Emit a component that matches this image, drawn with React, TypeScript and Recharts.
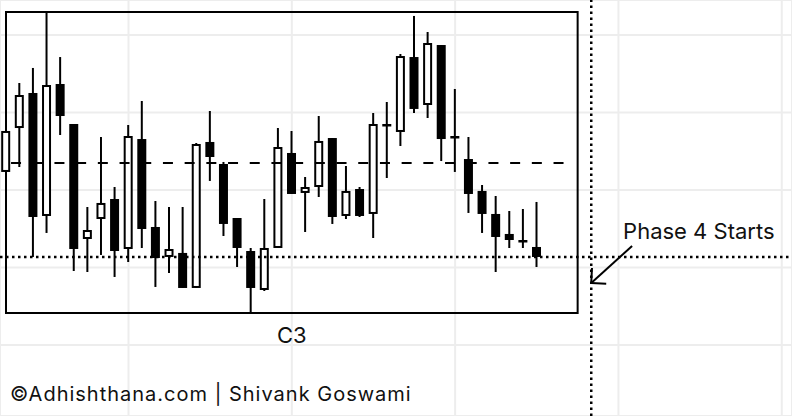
import React from 'react';
import {
  ComposedChart,
  Bar,
  XAxis,
  YAxis,
  CartesianGrid,
  ReferenceLine,
  ReferenceArea,
} from 'recharts';

// candle values (arbitrary price units)
const OPEN = [
  323.3, 380.0, 425.2, 266.5, 436.8, 385.2, 236.8, 262.6, 288.4, 223.9,
  365.8, 252.3, 213.6, 218.8, 173.6, 362.0, 333.6, 263.9, 221.3, 171.0,
  225.2, 347.8, 296.2, 303.9, 367.1, 266.5, 301.3, 269.1, 385.2, 374.9,
  471.6, 409.7, 487.1, 369.7, 340.0, 298.8, 269.1, 243.3, 235.5, 226.5,
];
const HIGH = [
  376.2, 438.1, 457.5, 529.7, 471.6, 385.2, 278.1, 368.4, 303.9, 383.9,
  414.9, 285.8, 278.1, 278.1, 360.7, 402.0, 336.2, 263.9, 225.2, 288.4,
  380.0, 376.2, 316.8, 395.5, 367.1, 331.0, 303.9, 399.4, 413.6, 475.5,
  524.6, 503.9, 487.1, 430.4, 368.4, 306.5, 292.3, 272.9, 275.5, 284.6,
];
const LOW = [
  323.3, 329.7, 213.6, 244.6, 371.0, 195.5, 194.2, 216.2, 187.8, 207.1,
  225.2, 174.9, 192.9, 173.6, 173.6, 311.7, 240.7, 200.7, 141.3, 169.7,
  225.2, 294.9, 245.8, 291.0, 256.2, 262.6, 265.2, 238.1, 315.5, 356.8,
  399.4, 392.9, 337.4, 323.3, 270.4, 244.6, 194.2, 225.2, 225.2, 200.7,
];
const CLOSE = [
  376.2, 422.6, 265.2, 435.5, 395.5, 223.9, 248.4, 283.3, 221.3, 369.7,
  249.7, 212.3, 223.9, 173.6, 359.4, 342.6, 256.2, 225.2, 173.6, 225.2,
  355.5, 294.9, 303.9, 363.3, 265.2, 298.8, 266.5, 385.2, 382.6, 472.9,
  404.6, 489.7, 365.8, 367.1, 294.9, 269.1, 239.4, 235.5, 234.2, 213.6,
];

const GRID_X = [9, 21, 33, 45, 57];
const GRID_Y = [100, 200, 300, 400, 500];

const RESISTANCE = 335; // dashed level
const SUPPORT = 213.6; // dotted level
const PHASE4_X = 43; // dotted vertical
const BOX = { x1: 0, x2: 42, y1: 141.3, y2: 529.7 };

const data = OPEN.map((o, i) => ({
  i,
  open: o,
  high: HIGH[i],
  low: LOW[i],
  close: CLOSE[i],
}));

const FONT = 'Inter, "Liberation Sans", Arial, sans-serif';

const Candle = (props: any) => {
  const { x, y, width, height, payload } = props;
  const top = Math.min(y, y + height);
  const h = Math.abs(height);
  const { open, high, low, close } = payload;
  const toY = (p: number) => top + ((high - p) / (high - low)) * h;
  const cx = x + width / 2;
  const bull = close >= open;
  const yo = toY(open);
  const yc = toY(close);
  const bTop = Math.min(yo, yc) + 1;
  const bH = Math.max(Math.abs(yo - yc) - 2, 0.5);
  return (
    <g>
      <line x1={cx} x2={cx} y1={top} y2={top + h} stroke="#000" strokeWidth={2} />
      <rect
        x={x + 1}
        y={bTop}
        width={width - 2}
        height={bH}
        fill={bull ? '#fff' : '#000'}
        stroke="#000"
        strokeWidth={2}
      />
    </g>
  );
};

const Arrow = (props: any) => {
  const { x1, y1, x2, y2 } = props;
  const back = Math.atan2(y1 - y2, x1 - x2);
  const len = 15;
  const a1 = back - Math.PI / 4;
  const a2 = back + Math.PI / 4;
  return (
    <g>
      <line x1={x1} y1={y1} x2={x2} y2={y2} stroke="#000" strokeWidth={2} />
      <line x1={x2} y1={y2} x2={x2 + len * Math.cos(a1)} y2={y2 + len * Math.sin(a1)} stroke="#000" strokeWidth={2} />
      <line x1={x2} y1={y2} x2={x2 + len * Math.cos(a2)} y2={y2 + len * Math.sin(a2)} stroke="#000" strokeWidth={2} />
      <text x={x1 - 9} y={y1 - 7} fontSize={22} fontFamily={FONT} fill="#111">
        Phase 4 Starts
      </text>
    </g>
  );
};

export default function App() {
  return (
    <div style={{ position: 'fixed', left: 0, top: 0, width: 792, height: 416, background: '#fff' }}>
      <ComposedChart width={792} height={416} data={data} margin={{ top: 0, right: 0, bottom: 0, left: 0 }}>
        <CartesianGrid stroke="#ededed" strokeWidth={2} />
        <XAxis
          dataKey="i"
          type="number"
          domain={[-0.441, 57.75]}
          ticks={GRID_X}
          allowDataOverflow
          hide
        />
        <YAxis type="number" domain={[8.4, 545.2]} ticks={GRID_Y} allowDataOverflow hide />
        <ReferenceArea
          x1={BOX.x1}
          x2={BOX.x2}
          y1={BOX.y1}
          y2={BOX.y2}
          fill="none"
          fillOpacity={0}
          stroke="#000"
          strokeWidth={2}
          label={{ value: 'C3', position: 'bottom', offset: 14, fill: '#111', fontSize: 22, fontFamily: FONT }}
        />
        <ReferenceLine
          segment={[{ x: 0.37, y: RESISTANCE }, { x: 41.15, y: RESISTANCE }]}
          stroke="#000"
          strokeWidth={2}
          strokeDasharray="10 11.7"
        />
        <ReferenceLine y={SUPPORT} stroke="#000" strokeWidth={2.5} strokeDasharray="2.5 3.5" />
        <ReferenceLine x={PHASE4_X} stroke="#000" strokeWidth={2.5} strokeDasharray="2.5 3.5" />
        <ReferenceLine
          segment={[{ x: 46, y: 227.8 }, { x: 43, y: 180 }]}
          stroke="#000"
          shape={Arrow}
        />
        <Bar
          dataKey={(d: any) => [d.low, d.high]}
          barSize={9}
          shape={Candle}
          isAnimationActive={false}
        />
      </ComposedChart>
      <div
        style={{
          position: 'absolute',
          left: 10,
          top: 384,
          fontFamily: FONT,
          fontSize: 20,
          letterSpacing: 1,
          lineHeight: 1,
          color: '#111',
          whiteSpace: 'nowrap',
        }}
      >
        ©Adhishthana.com | Shivank Goswami
      </div>
    </div>
  );
}
